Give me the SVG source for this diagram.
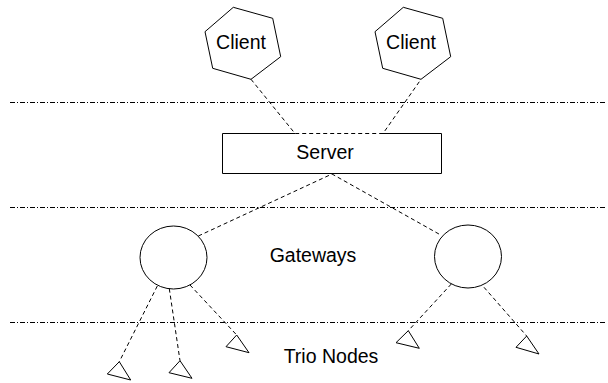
<svg xmlns="http://www.w3.org/2000/svg" width="608" height="383" viewBox="0 0 608 383">
<style>
.shape{fill:none;stroke:#000;stroke-width:1}
.conn{fill:none;stroke:#000;stroke-width:1;stroke-dasharray:4,3}
.sep{fill:none;stroke:#000;stroke-width:1;stroke-dasharray:5,2,1,2}
.lbl{font-family:"Liberation Sans",Arial,sans-serif;font-size:19.5px;fill:#000;text-anchor:middle}
</style>
<rect width="608" height="383" fill="#fff"/>
<g id="separators">
<line class="sep" x1="10" y1="102.5" x2="607" y2="102.5"/>
<line class="sep" x1="10" y1="207.5" x2="607" y2="207.5"/>
<line class="sep" x1="10" y1="322.5" x2="607" y2="322.5"/>
</g>
<g id="client1">
<polygon class="shape" points="233.3,7.3 272.7,18.3 280.7,56.7 251,79.3 212.7,68.3 205,31.7"/>
<text class="lbl" x="241" y="49">Client</text>
</g>
<g id="client2">
<polygon class="shape" points="403.3,7.3 442.7,18.3 450.7,56.7 421,79.3 382.7,68.3 375,31.7"/>
<text class="lbl" x="411" y="49">Client</text>
</g>
<g id="server">
<path class="shape" d="M295,133.5 H222.5 V173.5 H441.5 V133.5 H383"/>
<text class="lbl" x="325" y="159">Server</text>
</g>
<g id="gateway1">
<ellipse class="shape" cx="173.5" cy="257.5" rx="33.5" ry="31.5"/>
</g>
<g id="gateway2">
<ellipse class="shape" cx="468" cy="256.5" rx="33.5" ry="31.5"/>
</g>
<g id="labels">
<text class="lbl" x="313" y="262">Gateways</text>
<text class="lbl" x="331" y="363">Trio Nodes</text>
</g>
<g id="trio1"><polygon class="shape" points="119.3,361.7 107.3,374 130.7,380"/></g>
<g id="trio2"><polygon class="shape" points="180,360.7 169,372.7 192,378.3"/></g>
<g id="trio3"><polygon class="shape" points="236.7,335 226,346.7 249,352.7"/></g>
<g id="trio4"><polygon class="shape" points="408.3,330.7 396,342.7 419.3,348.3"/></g>
<g id="trio5"><polygon class="shape" points="526.7,336 516,347.3 539,354"/></g>
<g id="connectors">
<polyline class="conn" points="251,79.3 295,133.5 383,133.5 421,79.3"/>
<polyline class="conn" points="198.3,236 332,174 440.7,235"/>
<line class="conn" x1="157.3" y1="286" x2="119.3" y2="361.7"/>
<line class="conn" x1="169.3" y1="288.7" x2="180" y2="360.7"/>
<line class="conn" x1="190" y1="285" x2="236.7" y2="335"/>
<line class="conn" x1="451.3" y1="284" x2="408.3" y2="330.7"/>
<line class="conn" x1="484" y1="287.3" x2="526.7" y2="336"/>
</g>
</svg>
